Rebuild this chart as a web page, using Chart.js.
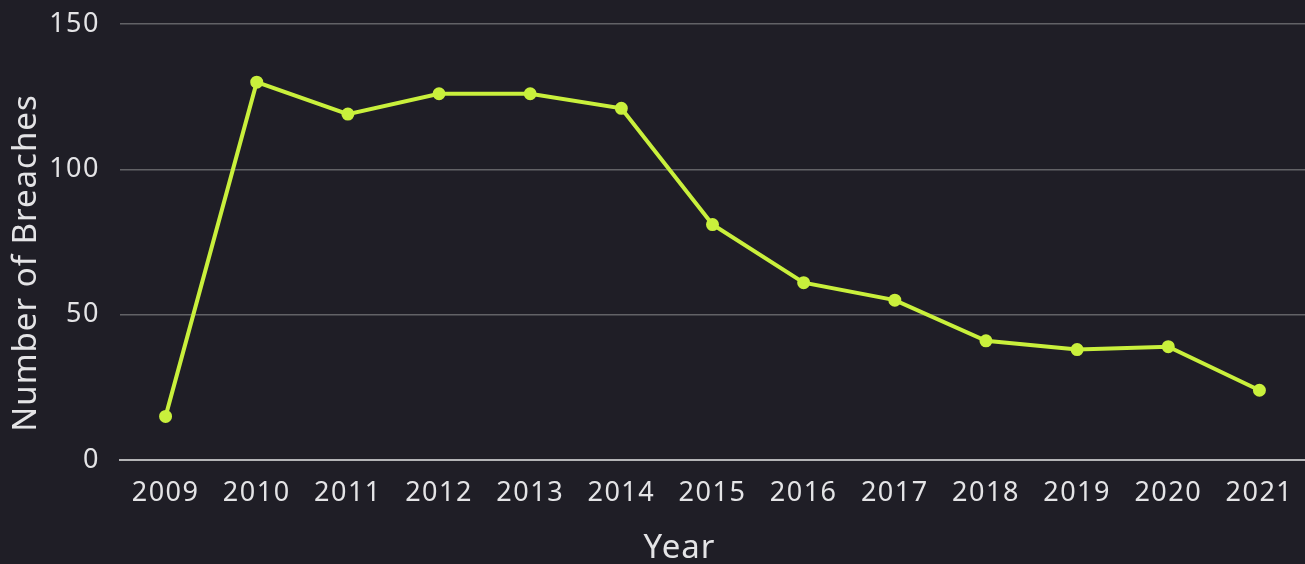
<!DOCTYPE html>
<html><head><meta charset="utf-8">
<script src="https://cdn.jsdelivr.net/npm/chart.js@4"></script>
<style>html,body{margin:0;padding:0;background:#1f1e26;}#wrap{width:1305px;height:564px;}</style>
</head><body><div id="wrap"><canvas id="c" width="1305" height="564"></canvas></div>
<script>
const years = ['2009','2010','2011','2012','2013','2014','2015','2016','2017','2018','2019','2020','2021'];
const breaches = [15,130,119,126,126,121,81,61,55,41,38,39,24];
const yTicks = [0,50,100,150];
const xTitle = 'Year';
const yTitle = 'Number of Breaches';
const FONT = "'Noto Sans', sans-serif";
const TXT = '#e4e4e6';
const spacing = {
  id: 'spacing',
  beforeUpdate(c) { c.ctx.letterSpacing = '1.5px'; },
  beforeDraw(c) { c.ctx.letterSpacing = '1.5px'; },
  afterDraw(c) {
    const ctx = c.ctx, a = c.chartArea;
    ctx.save();
    ctx.fillStyle = TXT;
    ctx.font = '33px ' + FONT;
    ctx.letterSpacing = '1px';
    ctx.textAlign = 'center';
    ctx.textBaseline = 'alphabetic';
    ctx.fillText(xTitle, (a.left + a.right) / 2 - 33, a.bottom + 98);
    ctx.translate(a.left - 84, (a.top + a.bottom) / 2 + 21);
    ctx.rotate(-Math.PI / 2);
    ctx.fillText(yTitle, 0, 0);
    ctx.restore();
  }
};
new Chart(document.getElementById('c'), {
  type: 'line',
  data: { labels: years, datasets: [{ data: breaches, borderColor: '#c9f03c', backgroundColor: '#c9f03c', borderWidth: 4, pointRadius: 4.5, pointHoverRadius: 4.5, tension: 0, clip: false }] },
  plugins: [spacing],
  options: {
    responsive: false, animation: false,
    layout: { autoPadding: false, padding: { left: 0, right: 0, top: 24, bottom: 0 } },
    plugins: { legend: { display: false }, tooltip: { enabled: false } },
    scales: {
      x: { offset: true,
        afterFit: s => { s.height = 104; s.paddingLeft = 0; s.paddingRight = 0; },
        grid: { display: false, drawTicks: false },
        border: { color: '#b4b4b6', width: 2 },
        ticks: { color: TXT, padding: 17, font: { family: FONT, size: 27 } } },
      y: { min: 0, max: 150,
        afterFit: s => { s.width = 120; s.paddingTop = 0; s.paddingBottom = 0; },
        afterBuildTicks: a => { a.ticks = yTicks.map(v => ({ value: v })); },
        grid: { color: '#626266', lineWidth: 1.5, drawTicks: false },
        border: { display: false },
        ticks: { color: TXT, padding: 20, font: { family: FONT, size: 27 } } }
    }
  }
});
</script></body></html>
